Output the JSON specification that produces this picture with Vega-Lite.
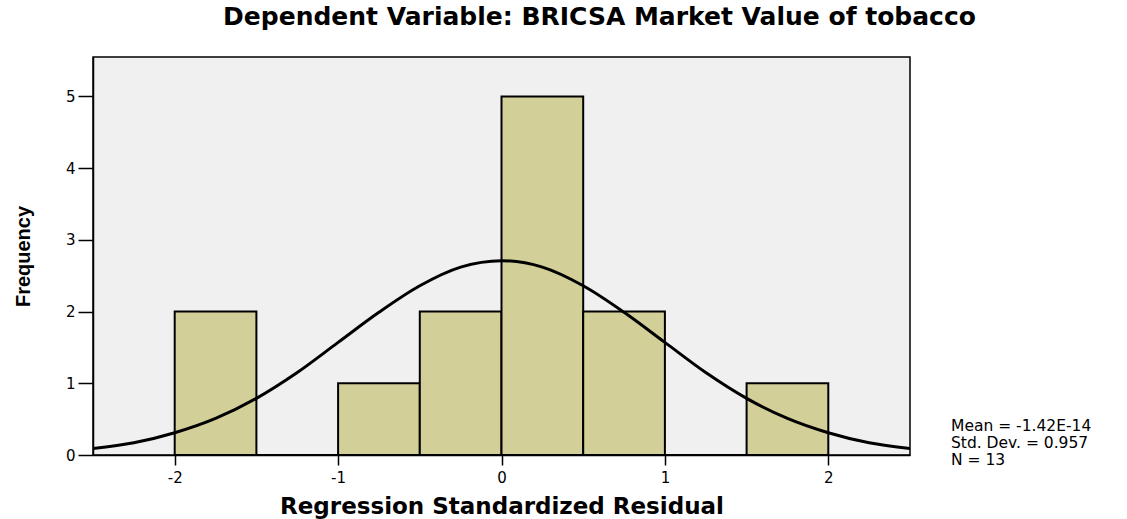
{
  "$schema": "https://vega.github.io/schema/vega-lite/v6.json",
  "width": 817,
  "height": 398,
  "autosize": "none",
  "padding": {"left": 93, "top": 57, "right": 217, "bottom": 64},
  "background": "white",
  "config": {
    "font": "DejaVu Sans",
    "view": {"fill": "#f0f0f0", "stroke": "black", "strokeWidth": 1.5},
    "axis": {"grid": false, "domainColor": "black", "tickColor": "black", "labelColor": "black", "titleColor": "black", "labelFont": "DejaVu Sans", "titleFont": "DejaVu Sans", "labelFontSize": 15, "tickWidth": 1.5, "domainWidth": 1.5}
  },
  "title": {
    "text": "Dependent Variable: BRICSA Market Value of tobacco",
    "font": "DejaVu Sans",
    "fontSize": 25,
    "fontWeight": "bold",
    "color": "black",
    "anchor": "middle",
    "dx": 98,
    "offset": 27
  },
  "datasets": {
    "bins": [
      {"bin_start": -2.0, "bin_end": -1.5, "count": 2},
      {"bin_start": -1.5, "bin_end": -1.0, "count": 0},
      {"bin_start": -1.0, "bin_end": -0.5, "count": 1},
      {"bin_start": -0.5, "bin_end": 0.0, "count": 2},
      {"bin_start": 0.0, "bin_end": 0.5, "count": 5},
      {"bin_start": 0.5, "bin_end": 1.0, "count": 2},
      {"bin_start": 1.0, "bin_end": 1.5, "count": 0},
      {"bin_start": 1.5, "bin_end": 2.0, "count": 1}
    ],
    "curve": [
      {"x": -2.5, "y": 0.09},
      {"x": -2.25, "y": 0.17},
      {"x": -2.0, "y": 0.31},
      {"x": -1.75, "y": 0.51},
      {"x": -1.5, "y": 0.79},
      {"x": -1.25, "y": 1.15},
      {"x": -1.0, "y": 1.57},
      {"x": -0.75, "y": 1.99},
      {"x": -0.5, "y": 2.36},
      {"x": -0.25, "y": 2.62},
      {"x": 0.0, "y": 2.71},
      {"x": 0.25, "y": 2.62},
      {"x": 0.5, "y": 2.36},
      {"x": 0.75, "y": 1.99},
      {"x": 1.0, "y": 1.57},
      {"x": 1.25, "y": 1.15},
      {"x": 1.5, "y": 0.79},
      {"x": 1.75, "y": 0.51},
      {"x": 2.0, "y": 0.31},
      {"x": 2.25, "y": 0.17},
      {"x": 2.5, "y": 0.09}
    ]
  },
  "layer": [
    {
      "data": {"name": "bins"},
      "mark": {"type": "rect", "fill": "#d3cf99", "stroke": "black", "strokeWidth": 2},
      "encoding": {
        "x": {"field": "bin_start", "type": "quantitative",
              "scale": {"domain": [-2.5, 2.5], "nice": false, "zero": false},
              "axis": {"values": [-2, -1, 0, 1, 2], "labelExpr": "datum.value + ''", "tickSize": 10, "title": "Regression Standardized Residual", "titleFontSize": 23, "titleFontWeight": "bold", "titlePadding": 10, "labelPadding": 5, "labelFlush": false}},
        "x2": {"field": "bin_end"},
        "y": {"field": "count", "type": "quantitative",
              "scale": {"domain": [0, 5.55], "nice": false},
              "axis": {"values": [0, 1, 2, 3, 4, 5], "labelExpr": "datum.value + ''", "tickSize": 15, "title": "Frequency", "titleFont": "Liberation Sans", "titleFontSize": 20, "titleFontWeight": "bold", "titlePadding": 32, "labelPadding": 3}},
        "y2": {"datum": 0}
      }
    },
    {
      "data": {"name": "curve"},
      "mark": {"type": "line", "color": "black", "strokeWidth": 3, "interpolate": "monotone", "clip": true},
      "encoding": {
        "x": {"field": "x", "type": "quantitative"},
        "y": {"field": "y", "type": "quantitative"}
      }
    },
    {
      "data": {"values": [{}]},
      "mark": {"type": "text", "text": ["Mean = -1.42E-14", "Std. Dev. = 0.957", "N = 13"], "align": "left", "baseline": "top", "fontSize": 15.5, "lineHeight": 17, "color": "black", "clip": false},
      "encoding": {
        "x": {"datum": 2.751},
        "y": {"datum": 0.5}
      }
    }
  ]
}
